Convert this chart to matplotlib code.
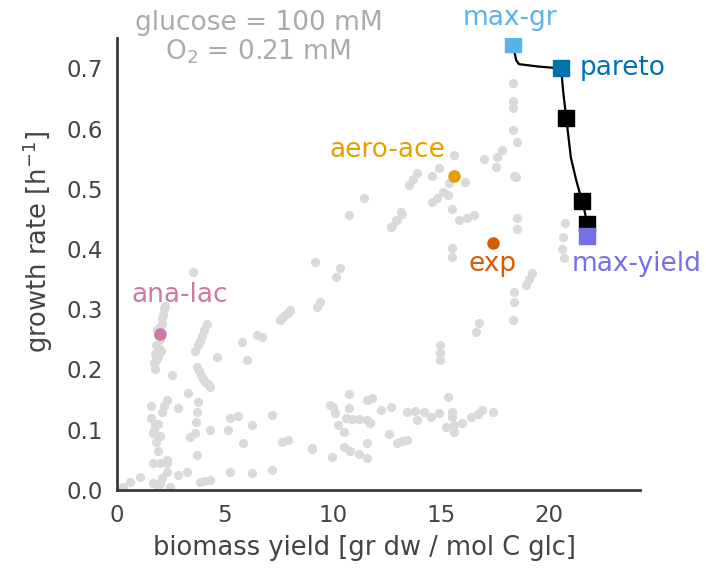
import matplotlib
matplotlib.use("Agg")
import matplotlib.pyplot as plt

plt.rcParams["font.family"] = ["DejaVu Sans"]
plt.rcParams["mathtext.fontset"] = "dejavusans"
plt.rcParams["mathtext.default"] = "regular"

# Sampled flux states: biomass yield [gr dw / mol C glc] and growth rate [1/h]
sample_yield = [
    10.76, 12.75, 12.95, 13.2, 9.15, 10.30, 10.16, 3.51, 11.45,
    2.2, 2.1, 2.0, 1.9, 1.8, 1.75, 1.7, 1.75, 2.0, 1.9, 2.05, 2.15,
    1.85, 1.95, 2.1, 1.8, 2.25,
    4.15, 3.95, 3.75, 3.6, 4.05, 3.85, 5.77, 6.5, 6.7, 7.53, 7.8, 7.99, 7.65, 7.9, 9.24, 9.38,
    4.62, 6.0, 2.54, 3.7, 3.9, 4.1, 4.3, 3.8, 4.0, 4.2, 3.28, 3.74, 3.7, 3.65, 3.6, 2.82,
    2.31, 2.1, 1.9, 1.66, 1.6, 1.7, 1.8, 1.9, 2.0, 1.6, 2.2, 1.75, 5.22, 5.13, 5.6,
    6.24, 7.16, 4.3, 3.37, 5.82, 7.62, 7.9, 9.05, 3.7, 1.66, 2.0, 2.3,
    2.3, 2.3, 2.82, 3.23, 3.83, 4.3, 4.05, 5.22, 6.24, 7.16, 0.28, 0.6, 1.06,
    1.66, 2.0, 2.45, 2.1, 1.9,
    10.76, 11.59, 11.78, 9.84, 9.98, 10.07, 10.76, 10.62, 10.9, 11.2,
    11.55, 10.21, 10.53, 11.69, 12.24, 12.7, 13.4, 13.8, 14.23, 13.9,
    14.55, 14.92, 15.33, 15.52, 15.52, 15.24, 15.6, 15.98, 15.61, 16.4,
    16.7, 16.9, 17.41, 12.61, 12.98, 13.2, 13.44, 9.05, 9.93, 10.53,
    10.8, 11.2, 11.55, 11.59,
    15.52, 15.52, 20.75, 20.65, 20.6, 20.7, 19.21, 19.05, 18.94, 18.38, 18.38,
    18.34, 16.77, 16.63, 14.97, 14.97, 14.97,
    18.34, 18.34, 18.34, 18.34, 18.52, 17.83, 17.6, 17.0, 17.55, 18.38,
    18.45, 15.61, 16.12, 14.92, 14.6, 13.9, 13.53, 13.7, 15.38, 15.1, 14.8,
    14.6, 15.3, 15.52, 15.84, 16.2, 16.54, 13.16, 12.9, 12.7, 18.52,
    18.52,
]
sample_rate = [
    0.456, 0.439, 0.448, 0.459, 0.378, 0.368, 0.353, 0.362, 0.484,
    0.300, 0.285, 0.270, 0.255, 0.240, 0.225, 0.210, 0.200, 0.250, 0.220, 0.230, 0.290,
    0.265, 0.235, 0.275, 0.215, 0.305,
    0.275, 0.255, 0.240, 0.230, 0.265, 0.248, 0.245, 0.257, 0.254, 0.282, 0.290, 0.299, 0.286, 0.294, 0.303, 0.312,
    0.221, 0.216, 0.191, 0.204, 0.190, 0.180, 0.171, 0.197, 0.185, 0.176, 0.161, 0.146, 0.129, 0.112, 0.095, 0.136,
    0.149, 0.130, 0.110, 0.095, 0.120, 0.100, 0.080, 0.065, 0.090, 0.140, 0.140, 0.110, 0.119, 0.100, 0.122,
    0.108, 0.124, 0.100, 0.088, 0.078, 0.080, 0.083, 0.070, 0.058, 0.045, 0.045, 0.045,
    0.050, 0.030, 0.025, 0.030, 0.013, 0.017, 0.015, 0.030, 0.028, 0.033, 0.005, 0.013, 0.022,
    0.012, 0.010, 0.005, 0.020, 0.005,
    0.159, 0.149, 0.153, 0.141, 0.138, 0.128, 0.136, 0.119, 0.118, 0.117,
    0.116, 0.108, 0.096, 0.111, 0.133, 0.138, 0.129, 0.131, 0.129, 0.116,
    0.121, 0.128, 0.154, 0.129, 0.121, 0.104, 0.107, 0.111, 0.096, 0.121,
    0.126, 0.133, 0.129, 0.093, 0.078, 0.081, 0.083, 0.068, 0.055, 0.071,
    0.065, 0.060, 0.053, 0.078,
    0.401, 0.386, 0.443, 0.420, 0.400, 0.385, 0.360, 0.350, 0.340, 0.328, 0.312,
    0.282, 0.277, 0.262, 0.240, 0.228, 0.216,
    0.675, 0.645, 0.635, 0.597, 0.577, 0.564, 0.552, 0.549, 0.536, 0.522,
    0.520, 0.556, 0.512, 0.534, 0.522, 0.527, 0.506, 0.516, 0.509, 0.495, 0.485,
    0.478, 0.490, 0.466, 0.448, 0.452, 0.456, 0.461, 0.448, 0.436, 0.451,
    0.434,
]

# Pareto front between maximal growth rate and maximal yield
front_yield = [18.34, 18.40, 18.48, 18.60, 19.50, 20.55, 20.65, 20.79, 21.00, 21.25, 21.52, 21.66, 21.76, 21.76]
front_rate = [0.741, 0.725, 0.713, 0.707, 0.703, 0.700, 0.660, 0.617, 0.552, 0.514, 0.479, 0.459, 0.441, 0.425]
front_marker_yield = [20.79, 21.52, 21.76]
front_marker_rate = [0.617, 0.479, 0.441]

# Named states
named = {
    "max-gr": (18.34, 0.741),
    "pareto": (20.55, 0.700),
    "max-yield": (21.76, 0.421),
    "aero-ace": (15.61, 0.521),
    "exp": (17.41, 0.410),
    "ana-lac": (1.99, 0.259),
}
colors = {
    "max-gr": "#56B4E9",
    "pareto": "#0072B2",
    "max-yield": "#7570E6",
    "aero-ace": "#E69F00",
    "exp": "#D55E00",
    "ana-lac": "#CC79A7",
}

fig = plt.figure(figsize=(7.08, 5.71), dpi=100)
ax = fig.add_axes([0.165, 0.142, 0.739, 0.791])

ax.scatter(sample_yield, sample_rate, s=44, color="#dadada", linewidths=0, zorder=1)

ax.plot(front_yield, front_rate, color="black", lw=1.6, zorder=2)
ax.plot(front_marker_yield, front_marker_rate, ls="none", marker="s", ms=11,
        color="black", zorder=3)

for name in ["max-gr", "pareto", "max-yield"]:
    x, y = named[name]
    ax.plot([x], [y], ls="none", marker="s", ms=11, color=colors[name], zorder=4)
for name in ["aero-ace", "exp", "ana-lac"]:
    x, y = named[name]
    ax.plot([x], [y], ls="none", marker="o", ms=8, color=colors[name], zorder=4)

label_kw = dict(fontsize=19, clip_on=False)
ax.text(18.20, 0.783, "max-gr", color=colors["max-gr"], ha="center", va="center", **label_kw)
ax.text(21.40, 0.701, "pareto", color=colors["pareto"], ha="left", va="center", **label_kw)
ax.text(24.05, 0.375, "max-yield", color=colors["max-yield"], ha="center", va="center", **label_kw)
ax.text(12.52, 0.564, "aero-ace", color=colors["aero-ace"], ha="center", va="center", **label_kw)
ax.text(17.37, 0.375, "exp", color=colors["exp"], ha="center", va="center", **label_kw)
ax.text(2.90, 0.323, "ana-lac", color=colors["ana-lac"], ha="center", va="center", **label_kw)

ax.text(6.55, 0.776, "glucose = 100 mM", color="#ababab", ha="center", va="center", **label_kw)
ax.text(6.55, 0.727, "O$_2$ = 0.21 mM", color="#ababab", ha="center", va="center", **label_kw)

ax.set_xlim(0, 24.2)
ax.set_ylim(0, 0.75)
ax.set_xticks([0, 5, 10, 15, 20])
ax.set_yticks([0.0, 0.1, 0.2, 0.3, 0.4, 0.5, 0.6, 0.7])
ax.set_yticklabels(["0.0", "0.1", "0.2", "0.3", "0.4", "0.5", "0.6", "0.7"])
ax.tick_params(length=0, labelsize=16.5, pad=10, colors="#444444")

ax.set_xlabel("biomass yield [gr dw / mol C glc]", fontsize=18.5, color="#444444")
ax.set_ylabel("growth rate [h$^{-1}$]", fontsize=18.5, color="#444444")
ax.xaxis.set_label_coords(0.474, -0.10)
ax.yaxis.set_label_coords(-0.118, 0.55)

for side in ["top", "right"]:
    ax.spines[side].set_visible(False)
for side in ["left", "bottom"]:
    ax.spines[side].set_color("#3a3a3a")
    ax.spines[side].set_linewidth(2)

fig.savefig("out.png", dpi=100, facecolor="white")
